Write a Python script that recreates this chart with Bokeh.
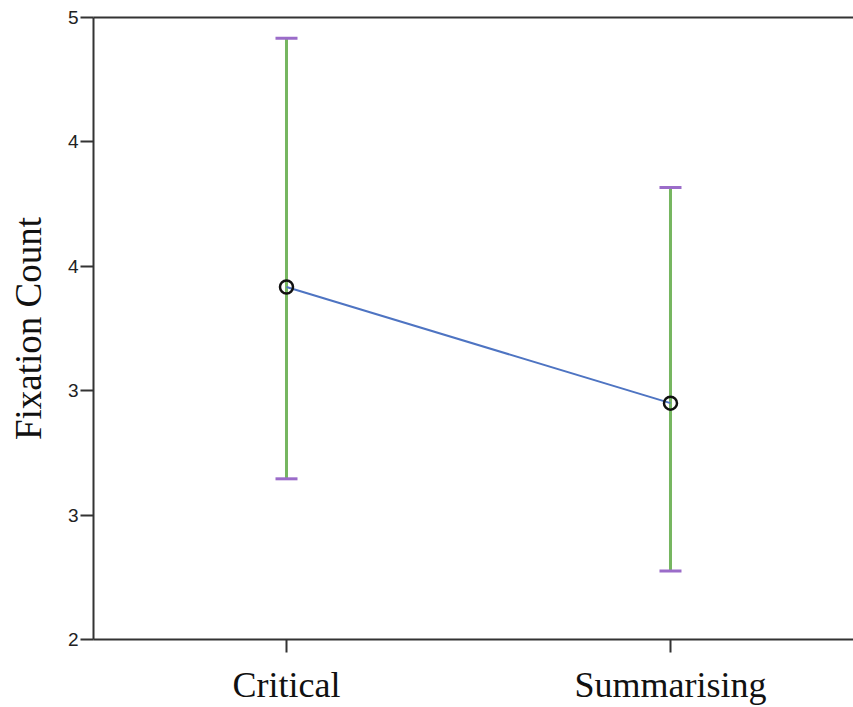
from bokeh.plotting import figure
from bokeh.models import (ColumnDataSource, Whisker, TeeHead, FixedTicker,
                          NumeralTickFormatter, LinearAxis, Range1d)
from bokeh.embed import file_html
from bokeh.resources import INLINE

categories = ["Critical", "Summarising"]
means = [3.70, 3.14]
upper = [4.90, 4.18]
lower = [2.775, 2.33]
y_ticks = [2.0, 2.6, 3.2, 3.8, 4.4, 5.0]

xs = list(range(len(categories)))
src = ColumnDataSource(dict(x=xs, m=means, up=upper, lo=lower))

p = figure(width=853, height=707, output_backend="svg", toolbar_location=None,
           x_range=Range1d(-0.5026, 1.4766), y_range=Range1d(2, 5),
           min_border_left=93, min_border_right=0, min_border_top=17,
           min_border_bottom=67)
p.outline_line_color = None
p.grid.grid_line_color = None
p.background_fill_color = "white"
p.border_fill_color = "white"

axis_color = "#333333"
# y axis
ya = p.yaxis[0]
ya.ticker = FixedTicker(ticks=y_ticks)
ya.formatter = NumeralTickFormatter(format="0")
ya.axis_line_width = 2
ya.axis_line_color = axis_color
ya.major_tick_line_width = 2
ya.major_tick_line_color = axis_color
ya.major_tick_out = 13
ya.major_tick_in = 0
ya.minor_tick_line_color = None
ya.major_label_text_font = "Liberation Sans"
ya.major_label_text_font_size = "19px"
ya.major_label_text_color = "#222222"
ya.major_label_standoff = 2
ya.axis_label = "Fixation Count"
ya.axis_label_text_font = "Liberation Serif"
ya.axis_label_text_font_size = "37px"
ya.axis_label_text_font_style = "normal"
ya.axis_label_text_color = "#111111"
ya.axis_label_standoff = 16

# x axis
xa = p.xaxis[0]
xa.ticker = FixedTicker(ticks=xs)
xa.major_label_overrides = {i: c for i, c in zip(xs, categories)}
xa.axis_line_width = 2
xa.axis_line_color = axis_color
xa.major_tick_line_width = 2
xa.major_tick_line_color = axis_color
xa.major_tick_out = 13
xa.major_tick_in = 0
xa.minor_tick_line_color = None
xa.major_label_text_font = "Liberation Serif"
xa.major_label_text_font_size = "36px"
xa.major_label_text_color = "#111111"
xa.major_label_standoff = 12

# top frame line
top = LinearAxis(ticker=FixedTicker(ticks=[]), axis_line_width=2,
                 axis_line_color=axis_color, major_tick_line_color=None,
                 minor_tick_line_color=None, major_label_text_font_size="0px")
p.add_layout(top, "above")

green = "#76b660"
purple = "#9b6cc9"
blue = "#4e74c2"

w = Whisker(source=src, base="x", upper="up", lower="lo",
            line_color=green, line_width=3,
            upper_head=TeeHead(size=22, line_color=purple, line_width=3),
            lower_head=TeeHead(size=22, line_color=purple, line_width=3))
p.add_layout(w)

p.line("x", "m", source=src, line_color=blue, line_width=2)
p.scatter("x", "m", source=src, size=13, fill_color=None,
          line_color="#111111", line_width=2.5)

open("out.html", "w").write(file_html(p, INLINE))
